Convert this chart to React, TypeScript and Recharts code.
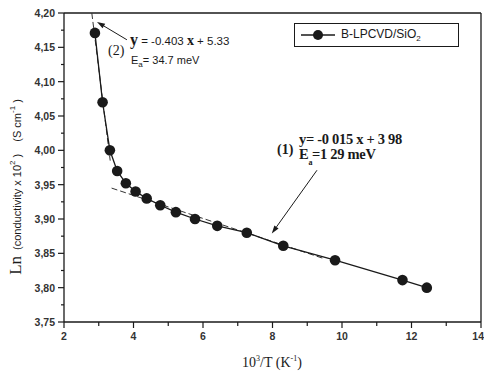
import { LineChart, Line, XAxis, YAxis, ReferenceLine, Legend } from 'recharts'

// measured points, 10^3/T vs Ln(conductivity x 10^2)
const invT = [2.89, 3.11, 3.32, 3.53, 3.78, 4.06, 4.38, 4.77, 5.22, 5.77, 6.41, 7.26, 8.31, 9.8, 11.74, 12.44]
const lnSigma = [4.171, 4.07, 4.0, 3.97, 3.952, 3.94, 3.93, 3.92, 3.91, 3.9, 3.89, 3.88, 3.861, 3.84, 3.811, 3.8]

// dashed fit segments (end points)
const fit1X = [3.37, 9.5]
const fit1Y = [3.945, 3.842]
const fit2X = [2.8, 3.33]
const fit2Y = [4.2, 3.985]

// arrows: tail -> tip
const arrow1 = [{ x: 9.28, y: 3.971 }, { x: 7.98, y: 3.879 }]
const arrow2 = [{ x: 3.81, y: 4.161 }, { x: 2.95, y: 4.187 }]

const xMajor = [2, 4, 6, 8, 10, 12, 14]
const xMinor = [3, 5, 7, 9, 11, 13]
const yMajor = [3.75, 3.8, 3.85, 3.9, 3.95, 4.0, 4.05, 4.1, 4.15, 4.2]
const yMinor = [3.775, 3.825, 3.875, 3.925, 3.975, 4.025, 4.075, 4.125, 4.175]

const seriesName = 'B-LPCVD/SiO2'

const data = invT.map((x, i) => ({ x, y: lnSigma[i] }))
const fit1 = fit1X.map((x, i) => ({ x, y: fit1Y[i] }))
const fit2 = fit2X.map((x, i) => ({ x, y: fit2Y[i] }))

const INK = '#1a1a1a'
const SANS = '"Liberation Sans", Arial, sans-serif'
const SERIF = '"Liberation Serif", "Times New Roman", serif'

const isIn = (arr: number[], v: number) => arr.some(m => Math.abs(m - v) < 1e-6)

const XTick = ({ x, y, payload }: any) => {
  const major = isIn(xMajor, payload.value)
  const last = payload.value === 14
  return (
    <g>
      <line x1={x} x2={x} y1={y} y2={y + (major ? 6 : 4)} stroke={INK} strokeWidth={1.2} />
      {major && (
        <text
          x={last ? x + 3 : x}
          y={y + 18}
          textAnchor={last ? 'end' : 'middle'}
          fontSize={10.5}
          fontWeight="bold"
          fontFamily={SANS}
          fill="#333"
        >
          {payload.value}
        </text>
      )}
    </g>
  )
}

const YTick = ({ x, y, payload }: any) => {
  const major = isIn(yMajor, payload.value)
  return (
    <g>
      <line x1={x} x2={x - (major ? 6 : 3)} y1={y} y2={y} stroke={INK} strokeWidth={1.2} />
      {major && (
        <text x={x - 9} y={y + 4} textAnchor="end" fontSize={10.5} fontWeight="bold" fontFamily={SANS} fill="#333">
          {payload.value.toFixed(2).replace('.', ',')}
        </text>
      )}
    </g>
  )
}

const Arrow = (p: any) => {
  const { x1, y1, x2, y2 } = p
  const a = Math.atan2(y2 - y1, x2 - x1)
  const L = 8
  const W = 2.6
  const bx = x2 - L * Math.cos(a)
  const by = y2 - L * Math.sin(a)
  const px = -Math.sin(a) * W
  const py = Math.cos(a) * W
  return (
    <g>
      <line x1={x1} y1={y1} x2={bx} y2={by} stroke={INK} strokeWidth={1} />
      <polygon points={`${x2},${y2} ${bx + px},${by + py} ${bx - px},${by - py}`} fill={INK} />
    </g>
  )
}

const LegendBox = () => (
  <div style={{ width: 163, height: 22, border: `1px solid ${INK}`, background: '#fff', display: 'flex', alignItems: 'center' }}>
    <svg width={46} height={22}>
      <line x1={6} x2={40} y1={11} y2={11} stroke={INK} strokeWidth={1.3} />
      <circle cx={23} cy={11} r={5} fill={INK} />
    </svg>
    <span style={{ fontFamily: SANS, fontSize: 12, color: INK }}>
      B-LPCVD/SiO<sub style={{ fontSize: 8 }}>2</sub>
    </span>
  </div>
)

export default function App() {
  return (
    <div style={{ position: 'absolute', left: 0, top: 0, width: 484, height: 372, background: '#fff' }}>
      <LineChart width={484} height={372} margin={{ top: 13, right: 3, bottom: 0, left: 0 }}>
        <XAxis
          dataKey="x"
          type="number"
          domain={[2, 14]}
          ticks={[...xMajor, ...xMinor].sort((a, b) => a - b)}
          interval={0}
          tick={<XTick />}
          tickLine={false}
          tickSize={0}
          tickMargin={0}
          height={50}
          axisLine={{ stroke: INK, strokeWidth: 1.3 }}
          allowDataOverflow
        />
        <YAxis
          dataKey="y"
          type="number"
          domain={[3.75, 4.2]}
          ticks={[...yMajor, ...yMinor].sort((a, b) => a - b)}
          interval={0}
          tick={<YTick />}
          tickLine={false}
          tickSize={0}
          tickMargin={0}
          width={64}
          axisLine={{ stroke: INK, strokeWidth: 1.3 }}
          allowDataOverflow
        />
        <ReferenceLine y={4.2} stroke={INK} strokeWidth={1.3} />
        <ReferenceLine x={14} stroke={INK} strokeWidth={1.3} />
        <Line data={fit1} dataKey="y" stroke="#333" strokeWidth={1} strokeDasharray="6 3" dot={false} isAnimationActive={false} legendType="none" />
        <Line data={fit2} dataKey="y" stroke="#333" strokeWidth={1} strokeDasharray="6 3" dot={false} isAnimationActive={false} legendType="none" />
        <Line
          data={data}
          dataKey="y"
          name={seriesName}
          stroke={INK}
          strokeWidth={1.3}
          dot={{ r: 5.3, fill: INK, stroke: INK, strokeWidth: 0 }}
          isAnimationActive={false}
        />
        <ReferenceLine segment={arrow1} shape={<Arrow />} ifOverflow="visible" />
        <ReferenceLine segment={arrow2} shape={<Arrow />} ifOverflow="visible" />
        <Legend
          layout="horizontal"
          verticalAlign="middle"
          align="center"
          content={<LegendBox />}
          wrapperStyle={{ position: 'absolute', left: 294, top: 23, width: 165, height: 24 }}
        />
      </LineChart>
      <svg width={484} height={372} style={{ position: 'absolute', left: 0, top: 0, pointerEvents: 'none' }}>
        {/* y axis title */}
        <text transform="rotate(-90, 21, 187)" x={21} y={187} textAnchor="middle" fill={INK}>
          <tspan fontFamily={SERIF} fontSize={17}>Ln</tspan>
          <tspan fontFamily={SANS} fontSize={11} dx={6}>(conductivity x 10</tspan>
          <tspan fontFamily={SANS} fontSize={8} dy={-6}>2</tspan>
          <tspan fontFamily={SANS} fontSize={11} dy={6}> )</tspan>
          <tspan fontFamily={SANS} fontSize={11} dx={12}>(S cm</tspan>
          <tspan fontFamily={SANS} fontSize={8} dy={-6}>-1</tspan>
          <tspan fontFamily={SANS} fontSize={11} dy={6}> )</tspan>
        </text>
        {/* x axis title */}
        <text x={272} y={367} textAnchor="middle" fontFamily={SERIF} fontSize={14} fill={INK}>
          10<tspan fontSize={8} dy={-6}>3</tspan>
          <tspan dy={6}>/T (K</tspan>
          <tspan fontSize={8} dy={-6}>-1</tspan>
          <tspan dy={6}>)</tspan>
        </text>
        {/* fit (2) */}
        <text x={108} y={55} fontFamily={SERIF} fontSize={14} fill={INK}>(2)</text>
        <text x={130} y={45} fill={INK}>
          <tspan fontFamily={SERIF} fontSize={16} fontWeight="bold">y</tspan>
          <tspan fontFamily={SANS} fontSize={11.5}> = -0.403 </tspan>
          <tspan fontFamily={SERIF} fontSize={14} fontWeight="bold">x</tspan>
          <tspan fontFamily={SANS} fontSize={11.5}> + 5.33</tspan>
        </text>
        <text x={131} y={64} fontFamily={SANS} fontSize={11} fill={INK}>
          E<tspan fontSize={8} dy={3}>a</tspan>
          <tspan dy={-3}>= 34.7  meV</tspan>
        </text>
        {/* fit (1) */}
        <text x={277} y={154} fontFamily={SERIF} fontSize={14} fontWeight="bold" fill={INK}>(1)</text>
        <text x={299} y={144} fontFamily={SERIF} fontSize={14.5} fontWeight="bold" fill={INK} letterSpacing={-0.3}>
          y= -0 015 x + 3 98
        </text>
        <text x={299} y={159} fontFamily={SERIF} fontSize={14.5} fontWeight="bold" fill={INK} letterSpacing={-0.3}>
          E<tspan fontSize={8} dy={6}>a</tspan>
          <tspan dy={-6}>=1 29 meV</tspan>
        </text>
      </svg>
    </div>
  )
}
